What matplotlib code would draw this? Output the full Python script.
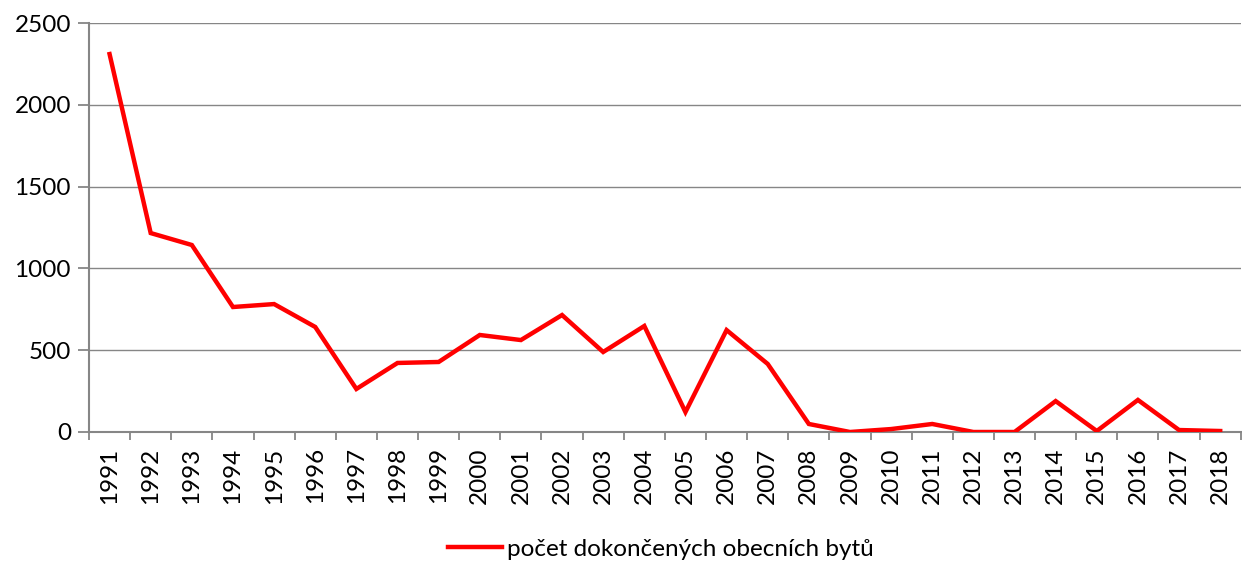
import numpy as np
import matplotlib.pyplot as plt
from matplotlib.lines import Line2D

plt.rcParams['font.family'] = ['Lato', 'DejaVu Sans']

years = [str(y) for y in range(1991, 2019)]
byty = [2310, 1216, 1143, 764, 782, 642, 263, 422, 428, 593, 562, 715, 489, 648,
        122, 623, 416, 49, 0, 18, 49, 0, 0, 189, 6, 196, 12, 6]
label = 'počet dokončených obecních bytů'

fig = plt.figure(figsize=(12.42, 5.62), dpi=100)
ax = fig.add_axes([89/1242, 1 - 432/562, 1 - 89/1242 - 0.001, (432 - 23)/562])

x = np.arange(len(years))
ax.plot(x, byty, color='#ff0000', lw=3.2, solid_joinstyle='miter', zorder=3)

ax.set_xlim(-0.5, len(years) - 0.5)
ax.set_ylim(0, 2500)
ax.set_yticks(np.arange(0, 2501, 500))
ax.yaxis.grid(True, color='#868686', lw=1)
ax.set_axisbelow(True)

ax.set_xticks(x)
ax.set_xticklabels(years, rotation=90, fontsize=17.5)
ax.set_xticks(np.arange(-0.5, len(years), 1), minor=True)
ax.tick_params(axis='x', which='major', length=0, pad=11)
ax.tick_params(axis='x', which='minor', length=6, color='#868686', width=1.3)
ax.tick_params(axis='y', length=8, color='#868686', width=1.3, labelsize=17.5, pad=5)

for s in ['top', 'right']:
    ax.spines[s].set_visible(False)
for s in ['left', 'bottom']:
    ax.spines[s].set_color('#868686')
    ax.spines[s].set_linewidth(1.5)

h = [Line2D([], [], color='#ff0000', lw=3.2)]
fig.legend(h, [label], loc='center', bbox_to_anchor=(661/1242, 1 - 549/562),
           frameon=False, fontsize=17.5, handlelength=2.2, handletextpad=0.2)

fig.savefig('out.png', dpi=100)
